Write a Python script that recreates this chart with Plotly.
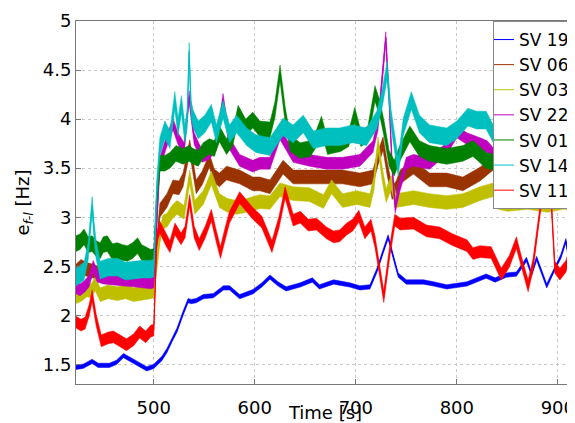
import plotly.graph_objects as go

# ---------------- data ----------------
names = ["SV 19", "SV 06", "SV 03", "SV 22", "SV 01", "SV 14", "SV 11"]

t_sv19 = [423, 430, 439, 445, 456, 463, 470, 480, 493, 500, 503, 508, 513, 518, 523, 529, 534, 537,
          542, 549, 559, 569, 575, 585, 598, 607, 615, 623, 631, 645, 657, 664, 678, 694, 704, 714,
          721, 727, 732, 737, 742, 750, 767, 777, 790, 810, 829, 838, 849, 859, 869, 874, 879, 889,
          897, 903, 908, 912, 917]
v_sv19 = [1.47, 1.48, 1.53, 1.49, 1.49, 1.52, 1.59, 1.53, 1.455, 1.48, 1.51, 1.56, 1.64, 1.75, 1.85,
          2.02, 2.15, 2.14, 2.15, 2.19, 2.20, 2.28, 2.28, 2.19, 2.24, 2.31, 2.39, 2.32, 2.27, 2.31,
          2.36, 2.29, 2.34, 2.31, 2.28, 2.29, 2.46, 2.65, 2.80, 2.60, 2.41, 2.34, 2.34, 2.32, 2.29,
          2.32, 2.40, 2.36, 2.41, 2.42, 2.57, 2.42, 2.58, 2.30, 2.48, 2.60, 2.76, 2.49, 2.45]

t_sv06 = [423, 428, 433, 440, 447, 455, 465, 475, 483, 490, 497, 500, 503, 506, 513, 519, 525, 529,
          535.6, 542, 548, 555, 560, 565, 572, 585, 598, 605, 615, 628, 638, 654, 671, 687, 704, 717,
          722, 727, 731, 736, 740, 744, 757, 773, 790, 806, 823, 836, 840]
v_sv06 = [2.45, 2.50, 2.47, 2.45, 2.42, 2.40, 2.40, 2.40, 2.42, 2.38, 2.37, 2.38, 2.70, 3.07, 3.17,
          3.31, 3.30, 3.38, 3.72, 3.31, 3.40, 3.58, 3.42, 3.38, 3.45, 3.41, 3.34, 3.34, 3.31, 3.51,
          3.41, 3.41, 3.41, 3.41, 3.38, 3.41, 3.60, 3.75, 3.50, 3.25, 3.30, 3.41, 3.51, 3.38, 3.38,
          3.34, 3.44, 3.55, 3.40]

t_sv03 = [423, 428, 434, 438, 442, 447, 455, 464, 472, 480, 488, 497, 500, 503, 506, 509, 513, 518,
          523, 530, 535.6, 540.6, 549, 557, 565, 573, 582, 592, 605, 615, 625, 638, 654, 668, 676,
          687, 701, 714, 718, 722, 726, 730, 735, 740, 757, 773, 790, 806, 823, 836, 841, 850, 870,
          890, 905, 917]
v_sv03 = [2.19, 2.21, 2.26, 2.25, 2.32, 2.21, 2.24, 2.22, 2.24, 2.21, 2.22, 2.24, 2.25, 2.55, 2.80,
          2.95, 2.97, 3.05, 3.10, 3.05, 3.41, 3.10, 3.20, 3.40, 3.17, 3.12, 3.10, 3.12, 3.16, 3.15,
          3.28, 3.24, 3.23, 3.16, 3.31, 3.17, 3.20, 3.17, 3.35, 3.75, 3.45, 3.22, 3.35, 3.17, 3.20,
          3.17, 3.15, 3.17, 3.24, 3.28, 3.15, 3.13, 3.15, 3.12, 3.15, 3.15]

t_sv22 = [423, 427, 432, 436, 440, 444, 450, 460, 470, 480, 490, 497, 500, 503, 506, 512, 519, 524,
          530, 535, 540, 548, 555, 562, 568.6, 575, 585, 598, 605, 615, 625, 638, 654, 671, 687, 704,
          717, 722, 726, 729.7, 733, 736, 739, 743, 750, 757, 773, 790, 800, 810, 823, 830, 840]
v_sv22 = [2.28, 2.26, 2.30, 2.35, 2.50, 2.40, 2.38, 2.37, 2.36, 2.35, 2.34, 2.33, 2.34, 3.00, 3.55,
          3.75, 3.95, 3.80, 3.70, 4.23, 3.80, 3.62, 3.65, 3.75, 4.20, 3.75, 3.58, 3.52, 3.55, 3.55,
          3.85, 3.62, 3.58, 3.55, 3.55, 3.58, 3.72, 3.95, 4.40, 4.83, 4.20, 3.50, 3.10, 3.30, 3.55,
          3.58, 3.55, 3.70, 3.87, 3.80, 3.75, 3.72, 3.60]

t_sv01 = [423, 427, 431, 435, 439, 443, 447, 450, 454, 459, 464, 469, 474, 479, 484, 488, 492, 497,
          500, 503, 506, 511, 516, 522, 529, 535, 539, 544, 549, 555, 560, 565, 572, 578, 583.5, 591,
          598, 605, 615, 620, 625, 630, 635, 645, 655, 660, 666, 672, 685, 693, 699, 705, 712, 719,
          724, 728, 733, 738, 743.6, 753.5, 763, 773, 790, 806, 816, 829, 840]
v_sv01 = [2.73, 2.75, 2.80, 2.72, 2.73, 2.68, 2.66, 2.72, 2.73, 2.65, 2.66, 2.64, 2.63, 2.66, 2.71,
          2.64, 2.62, 2.59, 2.60, 3.20, 3.55, 3.55, 3.58, 3.65, 3.62, 3.65, 3.62, 3.60, 3.68, 3.72,
          3.70, 3.85, 3.72, 3.80, 4.06, 3.92, 3.99, 3.90, 3.89, 4.10, 4.47, 4.05, 3.75, 3.68, 3.70,
          3.78, 3.95, 3.72, 3.75, 3.80, 4.04, 3.80, 3.85, 4.26, 4.10, 3.90, 3.60, 3.50, 3.65, 3.85,
          3.70, 3.65, 3.62, 3.65, 3.70, 3.58, 3.55]

t_sv14 = [423, 427, 431, 435, 437, 439, 441, 443, 447, 455, 464, 472, 480, 488, 497, 500, 503, 506,
          511, 516, 520.8, 524, 527.4, 530.7, 533, 535, 537, 539, 544, 550.5, 557, 562, 568.6, 575,
          582, 592, 601, 615, 628, 638, 648, 658, 671, 684, 697, 710.6, 720.8, 726, 731, 735, 739,
          742, 747, 755, 763, 773, 790, 800, 811, 819.5, 829, 837.6, 840]
v_sv14 = [2.39, 2.42, 2.45, 2.65, 2.90, 3.12, 2.85, 2.66, 2.46, 2.49, 2.49, 2.45, 2.46, 2.47, 2.47,
          2.48, 3.30, 3.72, 3.89, 3.79, 4.19, 3.92, 4.15, 3.85, 4.00, 4.69, 4.10, 4.00, 3.89, 3.95,
          4.06, 3.85, 4.10, 3.85, 3.95, 3.82, 3.75, 3.72, 3.92, 3.85, 3.95, 3.79, 3.82, 3.82, 3.85,
          3.82, 3.99, 4.20, 4.50, 4.00, 3.72, 3.51, 3.92, 4.19, 3.95, 3.85, 3.82, 3.89, 4.02, 3.99,
          3.99, 3.82, 3.70]

t_sv11 = [423, 428, 432, 436, 439, 443, 448, 455, 460, 466, 473, 480, 486, 492, 497, 500, 501.5, 503,
          506, 512, 516, 521, 527, 531, 535.5, 540, 545, 551, 557, 562, 566, 571, 575, 585, 598, 607,
          617, 624, 630, 638, 645, 653, 661, 671, 678, 684, 691, 697, 703, 709, 715, 719, 722, 727.7,
          733.7, 738.6, 744, 757, 770, 783, 796, 810, 816, 823, 834, 844, 852, 859, 864, 870.6,
          875.5, 882, 888, 892, 897, 902, 908, 913, 917]
v_sv11 = [1.93, 1.90, 1.92, 2.05, 2.20, 1.95, 1.74, 1.77, 1.78, 1.74, 1.70, 1.75, 1.83, 1.78, 1.84,
          1.85, 2.40, 2.78, 2.90, 2.77, 2.70, 2.88, 2.78, 2.85, 3.17, 2.85, 2.72, 2.85, 3.02, 2.80,
          2.64, 2.85, 3.00, 3.20, 3.04, 2.95, 2.70, 2.95, 3.25, 2.97, 3.00, 2.92, 2.93, 2.84, 2.80,
          2.81, 2.88, 2.92, 3.01, 2.84, 2.92, 2.75, 2.56, 2.19, 2.66, 2.97, 2.93, 2.94, 2.86, 2.84,
          2.77, 2.71, 2.63, 2.65, 2.64, 2.42, 2.55, 2.74, 2.54, 2.30, 2.52, 3.05, 3.50, 3.45, 2.49,
          2.42, 2.50, 2.66, 2.80]

x_ticks = [500, 600, 700, 800, 900]
y_ticks = [1.5, 2, 2.5, 3, 3.5, 4, 4.5, 5]

# ---------------- styles ----------------
times = [t_sv19, t_sv06, t_sv03, t_sv22, t_sv01, t_sv14, t_sv11]
values = [v_sv19, v_sv06, v_sv03, v_sv22, v_sv01, v_sv14, v_sv11]
colors = ["#0000FF", "#993300", "#BFBF00", "#BF00BF", "#008000", "#00BFBF", "#FF0000"]
half_band = [0.022, 0.07, 0.07, 0.06, 0.08, 0.09, 0.06]   # visual thickness of the noisy band (Hz)

FONT = "DejaVu Sans, Liberation Sans, Arial, sans-serif"

fig = go.Figure()
for name, t, v, c, hw in zip(names, times, values, colors, half_band):
    upper = [y + hw for y in v]
    lower = [y - hw for y in v]
    fig.add_trace(go.Scatter(
        x=list(t) + list(t)[::-1], y=upper + lower[::-1],
        fill="toself", fillcolor=c, mode="lines", line=dict(color=c, width=0.5),
        showlegend=False, legendgroup=name, hoverinfo="skip"))
    fig.add_trace(go.Scatter(
        x=t, y=v, mode="lines", name=name, legendgroup=name,
        line=dict(color=c, width=1)))

# the page body adds an 8 px offset, so the figure is 8 px smaller than the window
W, H = 567, 415
ML, MT, MB = 68, 13, 39
PLOT_W = W - ML
fig.update_layout(
    width=W, height=H,
    margin=dict(l=ML, r=0, t=MT, b=MB),
    paper_bgcolor="white", plot_bgcolor="white",
    font=dict(family=FONT, size=18, color="black"),
    showlegend=True,
    legend=dict(
        x=(485 - ML) / PLOT_W, xanchor="left", y=1, yanchor="top",
        bgcolor="white", bordercolor="#888888", borderwidth=1,
        font=dict(family=FONT, size=17, color="black"),
        tracegroupgap=0, itemwidth=30, indentation=-15,
    ),
)

fig.update_xaxes(
    range=[423, 917], tickmode="array", tickvals=x_ticks,
    ticktext=[str(v) for v in x_ticks],
    tickfont=dict(family=FONT, size=18),
    ticklabelstandoff=7, ticklabeloverflow="allow",
    automargin=False,
    showgrid=True, gridcolor="#c8c8c8", griddash="dot", gridwidth=1,
    showline=True, linecolor="#777777", linewidth=1, mirror=True,
    ticks="inside", ticklen=5, tickcolor="#777777",
    zeroline=False,
    title=dict(text="Time [s]", font=dict(family=FONT, size=18), standoff=12),
)
fig.update_yaxes(
    range=[1.3, 5], tickmode="array", tickvals=y_ticks,
    ticktext=[("%g" % v) for v in y_ticks],
    tickfont=dict(family=FONT, size=18),
    automargin=False,
    showgrid=True, gridcolor="#c8c8c8", griddash="dot", gridwidth=1,
    showline=True, linecolor="#777777", linewidth=1, mirror=False,
    ticks="inside", ticklen=5, tickcolor="#777777",
    zeroline=False,
    title=dict(text="e<sub><i>f-l</i></sub> [Hz]", font=dict(family=FONT, size=18), standoff=8),
)

fig.write_html("out.html")
